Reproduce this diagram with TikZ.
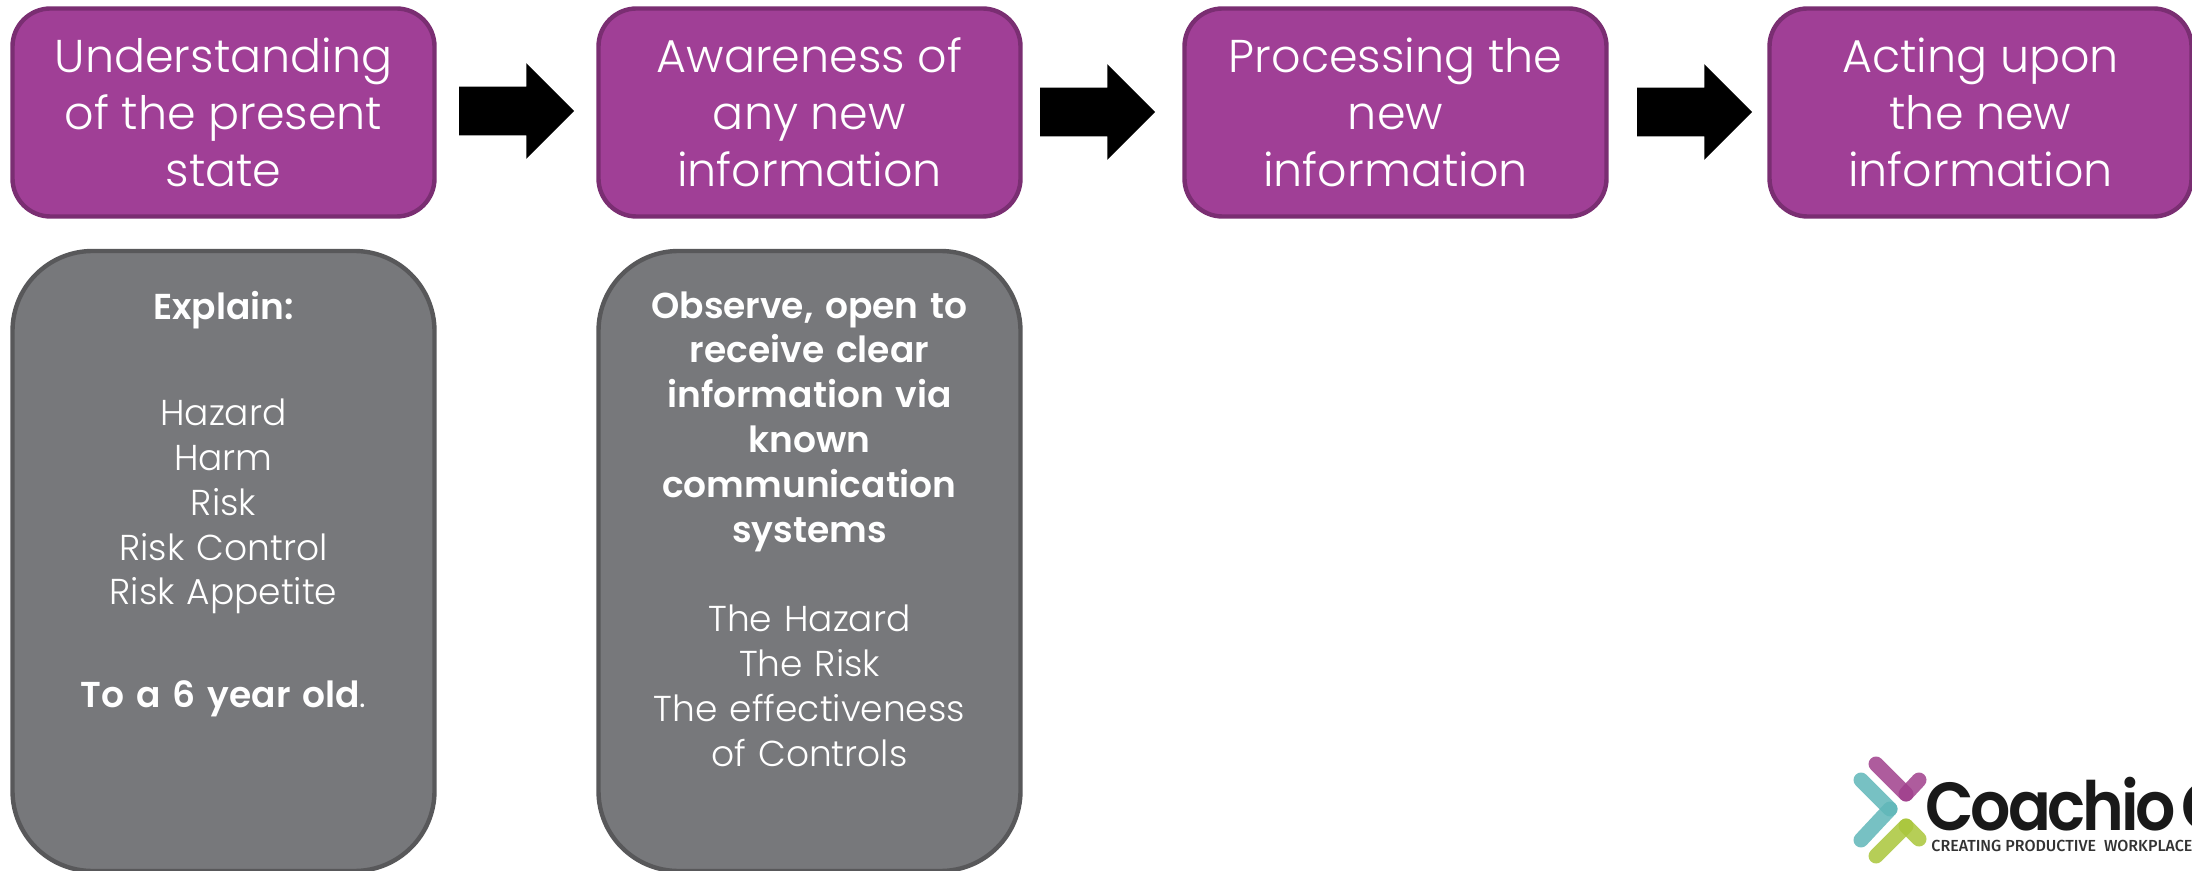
\documentclass[tikz,border=0pt]{standalone}
\usepackage{fontspec}
\setmainfont{Poppins}[UprightFont=* Light,BoldFont=* SemiBold]
\newfontfamily\logofont{Fira Sans}[UprightFont=* Medium,BoldFont=* Bold]
\newfontfamily\logohead{Poppins}[UprightFont=* SemiBold,LetterSpace=-5]
\usetikzlibrary{shapes.arrows}
\definecolor{pboxfill}{HTML}{A03F96}
\definecolor{pboxline}{HTML}{7A2E72}
\definecolor{gboxfill}{HTML}{77787B}
\definecolor{gboxline}{HTML}{58585A}
\definecolor{logopurple}{HTML}{A03F8C}
\definecolor{logoteal}{HTML}{5FB6B8}
\definecolor{logogreen}{HTML}{A9C63A}
\tikzset{
  px/.style={x=0.5pt,y=-0.5pt},
  headbox/.style={draw=pboxline,line width=2.2pt,fill=pboxfill,rounded corners=19pt,minimum width=211pt,minimum height=104pt,inner sep=0pt,text=white,align=center,font=\fontsize{23}{28.5}\selectfont},
  detailbox/.style={draw=gboxline,line width=2.2pt,fill=gboxfill,rounded corners=40pt,minimum width=211pt,minimum height=310pt,inner sep=0pt},
  detailtext/.style={text=white,align=center,anchor=north,inner sep=0pt,text width=190pt,font=\fontsize{18}{22.4}\selectfont},
  blockarrow/.style={single arrow,fill=black,draw=none,inner xsep=0pt,inner ysep=12pt,single arrow head extend=11.75pt,minimum height=57.5pt,single arrow head indent=0pt},
  logobar/.style={line width=7.5pt,line cap=round,opacity=.85}
}
\begin{document}
\begin{tikzpicture}[px]
\useasboundingbox (0,0) rectangle (2192,871);
\clip (0,0) rectangle (2192,871);
\node[headbox] (h1) at (223.5,112.5) {Understanding\\of the present\\state};
\node[headbox] (h2) at (809.5,112.5) {Awareness of\\any new\\information};
\node[headbox] (h3) at (1395.5,112.5) {Processing the\\new\\information};
\node[headbox] (h4) at (1980.5,112.5) {Acting upon\\the new\\information};
\node[blockarrow] (a1) at (504.5,111) {};
\node[blockarrow] (a2) at (1085.5,112) {};
\node[blockarrow] (a3) at (1682.5,112) {};
\node[detailbox] (d1) at (223.5,561) {};
\node[detailbox] (d2) at (809.5,561) {};
\node[detailtext] (t1) at (223.5,291) {\textbf{Explain:}\\[30.6pt]Hazard\\Harm\\Risk\\Risk Control\\Risk Appetite\\[29pt]\textbf{To a 6 year old}.};
\node[detailtext] (t2) at (809.5,291) {\textbf{Observe, open to}\\\textbf{receive clear}\\\textbf{information via}\\\textbf{known}\\\textbf{communication}\\\textbf{systems}\\[22.4pt]The Hazard\\The Risk\\The effectiveness\\of Controls};
% logo
\draw[logobar,logopurple] (1876,764) -- (1906,794);
\draw[logobar,logopurple] (1906,794) -- (1919,780);
\draw[logobar,logoteal] (1861,780) -- (1890,809);
\draw[logobar,logoteal] (1890,809) -- (1861,840);
\draw[logobar,logogreen] (1876,856) -- (1906,826);
\draw[logobar,logogreen] (1906,826) -- (1919,839);
\node[anchor=base west,inner sep=0pt,xscale=.93,transform shape,font=\logohead\fontsize{34}{34}\selectfont,text=black!90] (lg) at (1925,830) {Coachio\hspace{3pt}G};
\node[anchor=base west,inner sep=0pt,font=\logofont\fontsize{8}{10}\selectfont,text=black!80] (lt) at (1931,851) {CREATING PRODUCTIVE\ \ WORKPLACE};
\end{tikzpicture}
\end{document}
